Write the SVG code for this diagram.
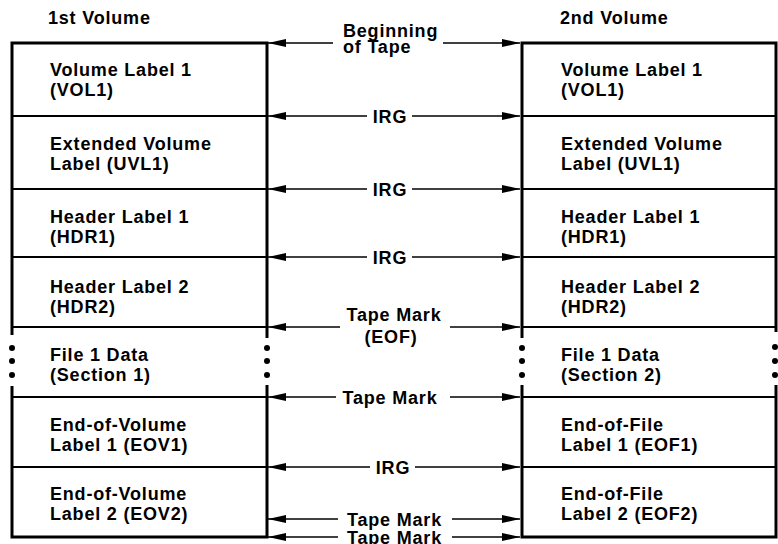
<svg xmlns="http://www.w3.org/2000/svg" width="778" height="544" viewBox="0 0 778 544">
  <style>
    text { font-family: "Liberation Sans", Arial, Helvetica, sans-serif; font-weight: bold; font-size: 18px; letter-spacing: 0.8px; fill: #000; }
    .mid { text-anchor: middle; }
    .frame { fill: none; stroke: #000; stroke-width: 3; stroke-linejoin: miter; }
    .sep { stroke: #000; stroke-width: 1.8; }
    .dot { fill: #000; }
    .arrow { stroke: #000; stroke-width: 1.6; fill: none; marker-end: url(#head); }
  </style>
  <defs>
    <marker id="head" markerUnits="userSpaceOnUse" markerWidth="18" markerHeight="8" refX="18" refY="4" orient="auto">
      <path d="M0,0 L18,4 L0,8 z" fill="#000"/>
    </marker>
  </defs>
  <rect width="778" height="544" fill="#fff"/>

  <!-- Volume headings -->
  <text x="48" y="24">1st Volume</text>
  <text x="560" y="24">2nd Volume</text>

  <!-- First volume -->
  <g id="volume1">
    <path class="frame" d="M12,335 V43 H267 V338"/>
    <path class="frame" d="M12,386 V537 H267 V385"/>
    <line class="sep" x1="12" y1="116" x2="267" y2="116"/>
    <line class="sep" x1="12" y1="189" x2="267" y2="189"/>
    <line class="sep" x1="12" y1="257" x2="267" y2="257"/>
    <line class="sep" x1="12" y1="327" x2="267" y2="327"/>
    <line class="sep" x1="12" y1="397" x2="267" y2="397"/>
    <line class="sep" x1="12" y1="467" x2="267" y2="467"/>
    <circle class="dot" cx="12" cy="348" r="3"/>
    <circle class="dot" cx="12" cy="361" r="3"/>
    <circle class="dot" cx="12" cy="375" r="3"/>
    <circle class="dot" cx="267" cy="348" r="3"/>
    <circle class="dot" cx="267" cy="361" r="3"/>
    <circle class="dot" cx="267" cy="375" r="3"/>
  </g>
  <g id="v1-vol1"><text x="50" y="76">Volume Label 1</text><text x="50" y="96">(VOL1)</text></g>
  <g id="v1-uvl1"><text x="50" y="150">Extended Volume</text><text x="50" y="170">Label (UVL1)</text></g>
  <g id="v1-hdr1"><text x="50" y="223">Header Label 1</text><text x="50" y="243">(HDR1)</text></g>
  <g id="v1-hdr2"><text x="50" y="293">Header Label 2</text><text x="50" y="313">(HDR2)</text></g>
  <g id="v1-data"><text x="50" y="361">File 1 Data</text><text x="50" y="381">(Section 1)</text></g>
  <g id="v1-eov1"><text x="50" y="431">End-of-Volume</text><text x="50" y="451">Label 1 (EOV1)</text></g>
  <g id="v1-eov2"><text x="50" y="500">End-of-Volume</text><text x="50" y="520">Label 2 (EOV2)</text></g>

  <!-- Second volume -->
  <g id="volume2">
    <path class="frame" d="M522,338 V43 H776 V332"/>
    <path class="frame" d="M522,385 V537 H776 V385"/>
    <line class="sep" x1="522" y1="116" x2="776" y2="116"/>
    <line class="sep" x1="522" y1="189" x2="776" y2="189"/>
    <line class="sep" x1="522" y1="257" x2="776" y2="257"/>
    <line class="sep" x1="522" y1="327" x2="776" y2="327"/>
    <line class="sep" x1="522" y1="397" x2="776" y2="397"/>
    <line class="sep" x1="522" y1="467" x2="776" y2="467"/>
    <circle class="dot" cx="522" cy="348" r="3"/>
    <circle class="dot" cx="522" cy="361" r="3"/>
    <circle class="dot" cx="522" cy="375" r="3"/>
    <circle class="dot" cx="775" cy="347" r="3"/>
    <circle class="dot" cx="775" cy="361" r="3"/>
    <circle class="dot" cx="775" cy="375" r="3"/>
  </g>
  <g id="v2-vol1"><text x="561" y="76">Volume Label 1</text><text x="561" y="96">(VOL1)</text></g>
  <g id="v2-uvl1"><text x="561" y="150">Extended Volume</text><text x="561" y="170">Label (UVL1)</text></g>
  <g id="v2-hdr1"><text x="561" y="223">Header Label 1</text><text x="561" y="243">(HDR1)</text></g>
  <g id="v2-hdr2"><text x="561" y="293">Header Label 2</text><text x="561" y="313">(HDR2)</text></g>
  <g id="v2-data"><text x="561" y="361">File 1 Data</text><text x="561" y="381">(Section 2)</text></g>
  <g id="v2-eof1"><text x="561" y="431">End-of-File</text><text x="561" y="451">Label 1 (EOF1)</text></g>
  <g id="v2-eof2"><text x="561" y="500">End-of-File</text><text x="561" y="520">Label 2 (EOF2)</text></g>

  <!-- Gap markers between the two volumes -->
  <g id="connectors">
    <line class="arrow" x1="333" y1="43" x2="268" y2="43"/>
    <line class="arrow" x1="443" y1="43" x2="520" y2="43"/>
    <text x="343" y="37">Beginning</text>
    <text x="343" y="53">of Tape</text>

    <line class="arrow" x1="367" y1="116" x2="268" y2="116"/>
    <line class="arrow" x1="412" y1="116" x2="520" y2="116"/>
    <text class="mid" x="390" y="123">IRG</text>

    <line class="arrow" x1="367" y1="189" x2="268" y2="189"/>
    <line class="arrow" x1="412" y1="189" x2="520" y2="189"/>
    <text class="mid" x="390" y="196">IRG</text>

    <line class="arrow" x1="367" y1="257" x2="268" y2="257"/>
    <line class="arrow" x1="412" y1="257" x2="520" y2="257"/>
    <text class="mid" x="390" y="264">IRG</text>

    <line class="arrow" x1="340" y1="327" x2="268" y2="327"/>
    <line class="arrow" x1="450" y1="327" x2="520" y2="327"/>
    <text class="mid" x="394" y="321">Tape Mark</text>
    <text class="mid" x="391" y="343">(EOF)</text>

    <line class="arrow" x1="336" y1="397" x2="268" y2="397"/>
    <line class="arrow" x1="450" y1="397" x2="520" y2="397"/>
    <text class="mid" x="390" y="404">Tape Mark</text>

    <line class="arrow" x1="370" y1="467" x2="268" y2="467"/>
    <line class="arrow" x1="415" y1="467" x2="520" y2="467"/>
    <text class="mid" x="393" y="474">IRG</text>

    <line class="arrow" x1="338" y1="519" x2="268" y2="519"/>
    <line class="arrow" x1="452" y1="519" x2="520" y2="519"/>
    <text class="mid" x="394.5" y="526">Tape Mark</text>

    <line class="arrow" x1="338" y1="537" x2="268" y2="537"/>
    <line class="arrow" x1="452" y1="537" x2="520" y2="537"/>
    <text class="mid" x="394.5" y="544">Tape Mark</text>
  </g>
</svg>
